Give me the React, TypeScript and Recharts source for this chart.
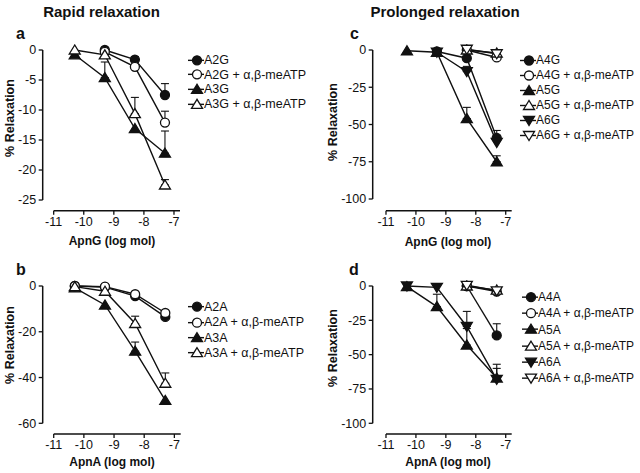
import { LineChart, Line, XAxis, YAxis, ErrorBar, ReferenceLine, Legend } from "recharts";

const FONT = "'Liberation Sans', Arial, Helvetica, sans-serif";
const INK = "#111";

// log molar doses, shared by all panels
const doses = [-10.3, -9.3, -8.3, -7.3];
const xTicks = [-11, -10, -9, -8, -7];

// a: ApnG, rapid relaxation
const aA2G = [null, 0, -1.6, -7.5];
const aA2GErr = [null, null, 0.5, 1.9];
const aA2GMe = [null, -0.3, -2.8, -12.1];
const aA2GMeErr = [null, null, null, 1.9];
const aA3G = [-0.8, -4.6, -13.1, -17.2];
const aA3GErr = [null, 2.6, null, 3.7];
const aA3GMe = [0, -0.8, -10.6, -22.5];
const aA3GMeErr = [null, null, 2.7, 0.9];
const aYTicks = [0, -5, -10, -15, -20, -25];

// b: ApnA, rapid relaxation
const bA2A = [0, -0.5, -4.4, -13.5];
const bA2AMe = [0, -0.3, -3.6, -11.8];
const bA3A = [-0.8, -8.3, -28.5, -50];
const bA3AErr = [null, null, 4, null];
const bA3AMe = [-0.3, -2.3, -16.4, -42.5];
const bA3AMeErr = [null, null, 3.2, 4.5];
const bYTicks = [0, -20, -40, -60];

// c: ApnG, prolonged relaxation
const cA4G = [null, -1, -5.5, -59];
const cA4GErr = [null, null, null, 5];
const cA4GMe = [null, null, 0, -5];
const cA5G = [-0.5, -1.5, -46, -75];
const cA5GErr = [null, null, 7.5, 4];
const cA5GMe = [null, null, 0, -2];
const cA6G = [null, -1.5, -14.5, -62];
const cA6GErr = [null, null, 3.5, null];
const cA6GMe = [null, null, 0.5, -2.5];
const cYTicks = [0, -25, -50, -75, -100];

// d: ApnA, prolonged relaxation
const dA4A = [null, null, 0, -36];
const dA4AErr = [null, null, null, 8.5];
const dA4AMe = [null, null, 0, -4];
const dA5A = [-0.5, -15, -43, -67];
const dA5AErr = [null, 9, 12, 7];
const dA5AMe = [null, null, 0, -3];
const dA6A = [0, -1, -29.5, -68];
const dA6AErr = [null, null, 11, 11];
const dA6AMe = [null, null, 0.5, -3.5];
const dYTicks = [0, -25, -50, -75, -100];

type Shape = "circle" | "up" | "down";
type Series = {
  key: string;
  name: string;
  shape: Shape;
  filled: boolean;
  values: (number | null)[];
  err?: (number | null)[];
};

const ME = " + \u03b1,\u03b2-meATP";

const seriesA: Series[] = [
  { key: "A2G", name: "A2G", shape: "circle", filled: true, values: aA2G, err: aA2GErr },
  { key: "A2Gme", name: "A2G" + ME, shape: "circle", filled: false, values: aA2GMe, err: aA2GMeErr },
  { key: "A3G", name: "A3G", shape: "up", filled: true, values: aA3G, err: aA3GErr },
  { key: "A3Gme", name: "A3G" + ME, shape: "up", filled: false, values: aA3GMe, err: aA3GMeErr },
];
const seriesB: Series[] = [
  { key: "A2A", name: "A2A", shape: "circle", filled: true, values: bA2A },
  { key: "A2Ame", name: "A2A" + ME, shape: "circle", filled: false, values: bA2AMe },
  { key: "A3A", name: "A3A", shape: "up", filled: true, values: bA3A, err: bA3AErr },
  { key: "A3Ame", name: "A3A" + ME, shape: "up", filled: false, values: bA3AMe, err: bA3AMeErr },
];
const seriesC: Series[] = [
  { key: "A4G", name: "A4G", shape: "circle", filled: true, values: cA4G, err: cA4GErr },
  { key: "A4Gme", name: "A4G" + ME, shape: "circle", filled: false, values: cA4GMe },
  { key: "A5G", name: "A5G", shape: "up", filled: true, values: cA5G, err: cA5GErr },
  { key: "A5Gme", name: "A5G" + ME, shape: "up", filled: false, values: cA5GMe },
  { key: "A6G", name: "A6G", shape: "down", filled: true, values: cA6G, err: cA6GErr },
  { key: "A6Gme", name: "A6G" + ME, shape: "down", filled: false, values: cA6GMe },
];
const seriesD: Series[] = [
  { key: "A4A", name: "A4A", shape: "circle", filled: true, values: dA4A, err: dA4AErr },
  { key: "A4Ame", name: "A4A" + ME, shape: "circle", filled: false, values: dA4AMe },
  { key: "A5A", name: "A5A", shape: "up", filled: true, values: dA5A, err: dA5AErr },
  { key: "A5Ame", name: "A5A" + ME, shape: "up", filled: false, values: dA5AMe },
  { key: "A6A", name: "A6A", shape: "down", filled: true, values: dA6A, err: dA6AErr },
  { key: "A6Ame", name: "A6A" + ME, shape: "down", filled: false, values: dA6AMe },
];

function buildRows(series: Series[]) {
  return doses.map((x, i) => {
    const row: any = { x };
    series.forEach((s) => {
      row[s.key] = s.values[i];
      const e = s.err ? s.err[i] : null;
      row[s.key + "_err"] = e == null || s.values[i] == null ? null : [0, e];
    });
    return row;
  });
}

function Marker({ shape, filled, cx, cy }: { shape: Shape; filled: boolean; cx: number; cy: number }) {
  const fill = filled ? INK : "#fff";
  if (shape === "circle") {
    return <circle cx={cx} cy={cy} r={4.5} fill={fill} stroke={INK} strokeWidth={1.3} />;
  }
  const w = 5.5;
  const pts =
    shape === "up"
      ? `${cx},${cy - 5} ${cx - w},${cy + 4} ${cx + w},${cy + 4}`
      : `${cx},${cy + 5} ${cx - w},${cy - 4} ${cx + w},${cy - 4}`;
  return <polygon points={pts} fill={fill} stroke={INK} strokeWidth={1.3} strokeLinejoin="miter" />;
}

function LegendRows({
  payload,
  series,
  rowH,
  fontSize,
}: {
  payload?: any[];
  series: Series[];
  rowH: number;
  fontSize: number;
}) {
  const items = payload && payload.length ? payload : series.map((s) => ({ dataKey: s.key, value: s.name }));
  return (
    <div style={{ fontFamily: FONT, fontSize, color: INK }}>
      {items.map((p: any) => {
        const s = series.find((q) => q.key === p.dataKey) || series[0];
        return (
          <div key={s.key} style={{ display: "flex", alignItems: "center", height: rowH, whiteSpace: "nowrap" }}>
            <svg width={16} height={rowH} style={{ flex: "none" }}>
              <line x1={0} x2={16} y1={rowH / 2} y2={rowH / 2} stroke={INK} strokeWidth={1.4} />
              <Marker shape={s.shape} filled={s.filled} cx={9} cy={rowH / 2} />
            </svg>
            <span>{p.value}</span>
          </div>
        );
      })}
    </div>
  );
}

type PanelProps = {
  left: number;
  top: number;
  width: number;
  height: number;
  margin: { top: number; right: number; bottom: number; left: number };
  xDomain: [number, number];
  yDomain: [number, number];
  yTicks: number[];
  series: Series[];
  legendPos: { left: number; top: number };
  rowH: number;
  legendFont: number;
};

function Panel(p: PanelProps) {
  const data = buildRows(p.series);
  const tick = { fill: INK, fontSize: 12.5, fontFamily: FONT };
  return (
    <div style={{ position: "absolute", left: p.left, top: p.top }}>
      <LineChart width={p.width} height={p.height} data={data} margin={p.margin}>
        <XAxis
          dataKey="x"
          type="number"
          domain={p.xDomain}
          ticks={xTicks}
          interval={0}
          allowDataOverflow
          axisLine={false}
          tickSize={4}
          tickMargin={2.5}
          height={30}
          tick={tick}
          tickLine={{ stroke: INK, strokeWidth: 1.3 }}
        />
        <YAxis
          type="number"
          domain={p.yDomain}
          ticks={p.yTicks}
          interval={0}
          allowDataOverflow
          axisLine={false}
          width={40}
          tickSize={4}
          tickMargin={2.5}
          tick={tick}
          tickLine={{ stroke: INK, strokeWidth: 1.3 }}
        />
        <ReferenceLine
          segment={[
            { x: p.xDomain[0], y: p.yTicks[0] },
            { x: p.xDomain[0], y: p.yTicks[p.yTicks.length - 1] },
          ]}
          stroke={INK}
          strokeWidth={1.5}
          ifOverflow="visible"
        />
        <ReferenceLine
          segment={[
            { x: xTicks[0], y: p.yDomain[0] },
            { x: p.xDomain[1], y: p.yDomain[0] },
          ]}
          stroke={INK}
          strokeWidth={1.5}
          ifOverflow="visible"
        />
        {p.series.map((s) => (
          <Line
            key={s.key}
            dataKey={s.key}
            name={s.name}
            type="linear"
            stroke={INK}
            strokeWidth={1.4}
            isAnimationActive={false}
            activeDot={false}
            dot={(d: any) => {
              if (d.cx == null || d.cy == null || d.value == null)
                return <g key={`${s.key}-${d.index}`} />;
              return (
                <g key={`${s.key}-${d.index}`}>
                  <Marker shape={s.shape} filled={s.filled} cx={d.cx} cy={d.cy} />
                </g>
              );
            }}
          >
            {s.err ? (
              <ErrorBar dataKey={s.key + "_err"} direction="y" width={4} stroke={INK} strokeWidth={1.1} />
            ) : null}
          </Line>
        ))}
        <Legend
          layout="vertical"
          align="center"
          verticalAlign="middle"
          wrapperStyle={{ left: p.legendPos.left, top: p.legendPos.top, width: "auto", height: "auto" }}
          content={(props: any) => (
            <LegendRows payload={props.payload} series={p.series} rowH={p.rowH} fontSize={p.legendFont} />
          )}
        />
      </LineChart>
    </div>
  );
}

export default function App() {
  const txt = { fontFamily: FONT, fill: INK };
  return (
    <div style={{ position: "absolute", left: 0, top: 0, width: 640, height: 473, background: "#fff" }}>
      <Panel
        left={0}
        top={0}
        width={320}
        height={250}
        margin={{ top: 44, right: 140, bottom: 9.3, left: 2.7 }}
        xDomain={[-11.365, -6.8]}
        yDomain={[-26.78, 1]}
        yTicks={aYTicks}
        series={seriesA}
        legendPos={{ left: 188, top: 52.5 }}
        rowH={14.7}
        legendFont={12.5}
      />
      <Panel
        left={0}
        top={236}
        width={320}
        height={237}
        margin={{ top: 44, right: 139.3, bottom: 9, left: 2.7 }}
        xDomain={[-11.365, -6.79]}
        yDomain={[-64.68, 2.62]}
        yTicks={bYTicks}
        series={seriesB}
        legendPos={{ left: 188, top: 63.4 }}
        rowH={15.3}
        legendFont={12.5}
      />
      <Panel
        left={320}
        top={0}
        width={320}
        height={250}
        margin={{ top: 44, right: 128.3, bottom: 9.3, left: 12.7 }}
        xDomain={[-11.444, -6.8]}
        yDomain={[-107.85, 4.03]}
        yTicks={cYTicks}
        series={seriesC}
        legendPos={{ left: 200, top: 52.5 }}
        rowH={15}
        legendFont={12}
      />
      <Panel
        left={320}
        top={236}
        width={320}
        height={237}
        margin={{ top: 44, right: 128.3, bottom: 9, left: 12.7 }}
        xDomain={[-11.444, -6.8]}
        yDomain={[-107.8, 4.37]}
        yTicks={dYTicks}
        series={seriesD}
        legendPos={{ left: 202, top: 52.8 }}
        rowH={16.3}
        legendFont={12}
      />
      <svg width={640} height={473} style={{ position: "absolute", left: 0, top: 0, pointerEvents: "none" }}>
        <text {...txt} x={101.5} y={11} fontSize={15} fontWeight="bold" textAnchor="middle" dominantBaseline="central">
          Rapid relaxation
        </text>
        <text {...txt} x={445} y={11} fontSize={15} fontWeight="bold" textAnchor="middle" dominantBaseline="central">
          Prolonged relaxation
        </text>
        <text {...txt} x={16} y={33} fontSize={16} fontWeight="bold" dominantBaseline="central">a</text>
        <text {...txt} x={350} y={33} fontSize={16} fontWeight="bold" dominantBaseline="central">c</text>
        <text {...txt} x={16} y={269} fontSize={16} fontWeight="bold" dominantBaseline="central">b</text>
        <text {...txt} x={349} y={269} fontSize={16} fontWeight="bold" dominantBaseline="central">d</text>
        <text {...txt} fontSize={12.5} fontWeight="bold" textAnchor="middle" dominantBaseline="central" transform="translate(10,118) rotate(-90)">
          % Relaxation
        </text>
        <text {...txt} fontSize={12.5} fontWeight="bold" textAnchor="middle" dominantBaseline="central" transform="translate(10,345) rotate(-90)">
          % Relaxation
        </text>
        <text {...txt} fontSize={12.5} fontWeight="bold" textAnchor="middle" dominantBaseline="central" transform="translate(333,122) rotate(-90)">
          % Relaxation
        </text>
        <text {...txt} fontSize={12.5} fontWeight="bold" textAnchor="middle" dominantBaseline="central" transform="translate(333,348) rotate(-90)">
          % Relaxation
        </text>
        <text {...txt} x={112} y={241} fontSize={12} fontWeight="bold" textAnchor="middle" dominantBaseline="central">
          ApnG (log mol)
        </text>
        <text {...txt} x={448} y={242} fontSize={12} fontWeight="bold" textAnchor="middle" dominantBaseline="central">
          ApnG (log mol)
        </text>
        <text {...txt} x={112} y={462} fontSize={12} fontWeight="bold" textAnchor="middle" dominantBaseline="central">
          ApnA (log mol)
        </text>
        <text {...txt} x={448} y={462} fontSize={12} fontWeight="bold" textAnchor="middle" dominantBaseline="central">
          ApnA (log mol)
        </text>
      </svg>
    </div>
  );
}
